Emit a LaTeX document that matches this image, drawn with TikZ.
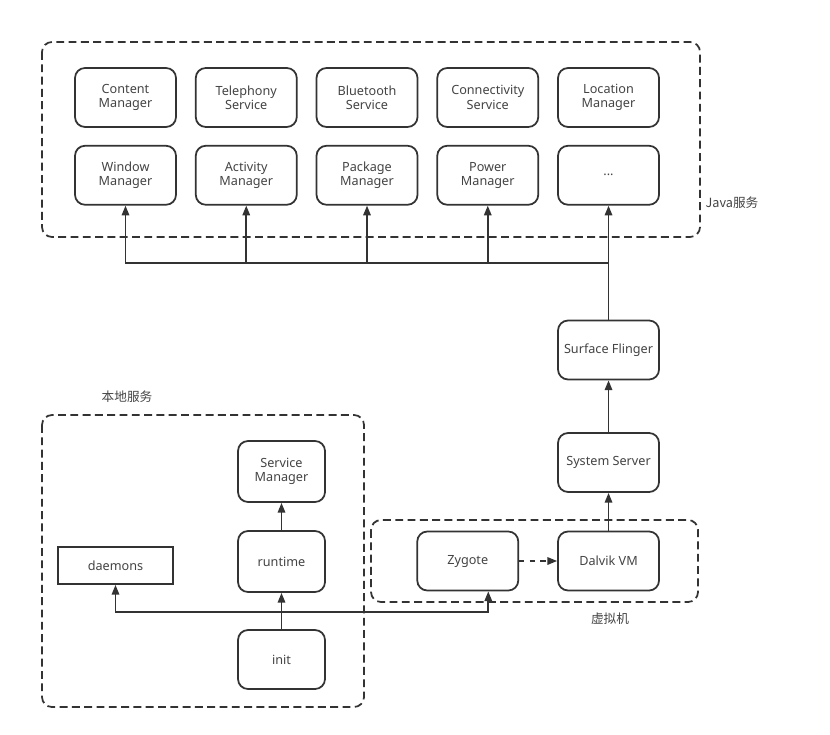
\documentclass[tikz,border=0pt]{standalone}
\usepackage{fontspec}
\setmainfont{Noto Sans}
\newfontfamily\cjk{Noto Sans CJK SC}
\usepackage{tikz}
\usetikzlibrary{arrows.meta, positioning, calc}
\usepackage{xcolor}
\definecolor{linegray}{HTML}{333333}
\definecolor{textgray}{HTML}{444444}

\tikzset{
  svcbox/.style={draw=linegray, line width=1pt, rounded corners=0.2cm, fill=white,
                 minimum width=2.02cm, minimum height=1.18cm, align=center,
                 text=textgray, font=\fontsize{7.2}{8.2}\selectfont},
  plainbox/.style={draw=linegray, line width=1pt, fill=white,
                 minimum width=2.3cm, minimum height=0.74cm, align=center,
                 text=textgray, font=\fontsize{7.2}{8.2}\selectfont},
  groupbox/.style={draw=linegray, line width=1pt, dash pattern=on 4.5pt off 2.5pt,
                 rounded corners=0.2cm},
  grouplabel/.style={text=textgray, font=\cjk\fontsize{7.2}{8.2}\selectfont},
  arr/.style={draw=linegray, line width=1pt, -{Triangle[length=5.5pt, width=4.2pt]}}
}

\begin{document}
\begin{tikzpicture}[node distance=0.34cm and 0.36cm]
  \useasboundingbox (0,0) rectangle (16.6,-14.7);
  \fill[white] (0,0) rectangle (16.6,-14.7);

  % Java services
  \draw[groupbox] (0.84,-0.84) rectangle (14.0,-4.74);
  \node[grouplabel] (javalbl) at (14.64,-4.06) {Java服务};

  \node[svcbox] (cm) at (2.51,-1.95) {Content\\Manager};
  \node[svcbox, right=of cm] (ts) {Telephony\\Service};
  \node[svcbox, right=of ts] (bs) {Bluetooth\\Service};
  \node[svcbox, right=of bs] (cs) {Connectivity\\Service};
  \node[svcbox, right=of cs] (lm) {Location\\Manager};
  \node[svcbox, below=of cm] (wm) {Window\\Manager};
  \node[svcbox, below=of ts] (am) {Activity\\Manager};
  \node[svcbox, below=of bs] (pm) {Package\\Manager};
  \node[svcbox, below=of cs] (pw) {Power\\Manager};
  \node[svcbox, below=of lm] (more) {...};

  % system server chain
  \node[svcbox] (sf) at (more |- 0,-7.0) {Surface Flinger};
  \node[svcbox] (ss) at (more |- 0,-9.25) {System Server};

  % virtual machine
  \draw[groupbox] (7.42,-10.4) rectangle (13.96,-12.04);
  \node[grouplabel] (vmlbl) at (12.2,-12.38) {虚拟机};
  \node[svcbox] (dvm) at (more |- 0,-11.22) {Dalvik VM};
  \node[svcbox, left=0.76cm of dvm] (zyg) {Zygote};

  % native services
  \draw[groupbox] (0.84,-8.3) rectangle (7.28,-14.14);
  \node[grouplabel] (natlbl) at (2.54,-7.94) {本地服务};
  \node[svcbox, minimum width=1.74cm, minimum height=1.22cm] (sm) at (5.63,-9.43) {Service\\Manager};
  \node[svcbox, minimum width=1.74cm, minimum height=1.22cm] (rt) at (5.63,-11.23) {runtime};
  \node[svcbox, minimum width=1.74cm, minimum height=1.18cm] (init) at (5.63,-13.19) {init};
  \node[plainbox] (dmn) at (2.31,-11.31) {daemons};

  \coordinate (jbus) at (0,-5.26);
  \coordinate (nbus) at (0,-12.24);

  \foreach \n in {wm, am, pm, pw, more}
    \draw[arr] (sf.north) |- (jbus -| \n.south) -- (\n.south);
  \draw[arr] (ss) -- (sf);
  \draw[arr] (dvm) -- (ss);
  \draw[arr, dashed] (zyg) -- (dvm);
  \draw[arr] (rt) -- (sm);
  \draw[arr] (init) -- (rt);
  \draw[arr] (init.north |- nbus) -| (dmn.south);
  \draw[arr] (init.north |- nbus) -| ([xshift=0.41cm]zyg.south);
\end{tikzpicture}
\end{document}
